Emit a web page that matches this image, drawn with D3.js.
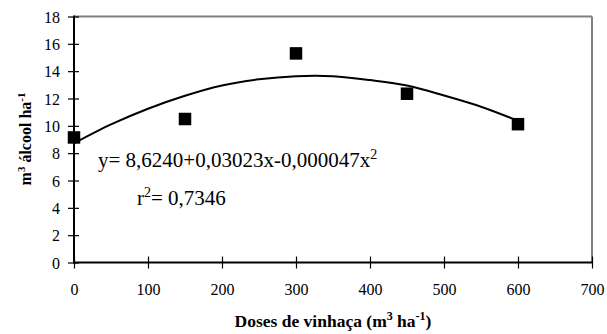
<!DOCTYPE html>
<html>
<head>
<meta charset="utf-8">
<script src="https://cdn.jsdelivr.net/npm/d3@7"></script>
<style>
html,body{margin:0;padding:0;background:#fff;}
svg{display:block;}
svg text{font-family:"Liberation Serif","Times New Roman",serif;}
</style>
</head>
<body>
<svg id="chart" width="607" height="334"></svg>
<script>
// Observed points
const doses = [0, 150, 300, 450, 600];
const alcool = [9.15, 10.5, 15.3, 12.35, 10.12];
// Fitted curve
const curveX = [0, 50, 100, 150, 200, 250, 300, 350, 400, 450, 500, 550, 600];
const curveY = [8.72, 10.1, 11.25, 12.2, 12.95, 13.4, 13.63, 13.63, 13.35, 12.95, 12.22, 11.4, 10.37];
const xTicks = [0, 100, 200, 300, 400, 500, 600, 700];
const yTicks = [0, 2, 4, 6, 8, 10, 12, 14, 16, 18];

const svg = d3.select("#chart");
const mLeft = 74, mRight = 592, mTop = 16.5, mBottom = 262.5;
const x = d3.scaleLinear().domain([0, 700]).range([mLeft, mRight]);
const y = d3.scaleLinear().domain([0, 18]).range([mBottom, mTop]);

// frame (top & right gray)
svg.append("line").attr("x1", mLeft).attr("x2", mRight).attr("y1", mTop).attr("y2", mTop)
  .attr("stroke", "#808080").attr("stroke-width", 2);
svg.append("line").attr("x1", mRight).attr("x2", mRight).attr("y1", mTop).attr("y2", mBottom)
  .attr("stroke", "#808080").attr("stroke-width", 2);

// axes
const xAxis = d3.axisBottom(x).tickValues(xTicks).tickSize(0).tickPadding(0).tickFormat(d3.format("d"));
const gx = svg.append("g").attr("transform", `translate(0,${mBottom})`).call(xAxis)
  .attr("font-family", "Liberation Serif").attr("font-size", 16);
gx.select(".domain").remove();
gx.selectAll(".tick text").attr("dy", null).attr("y", 32).attr("fill", "#000");
gx.selectAll(".tick").append("line").attr("y1", -6).attr("y2", 6).attr("stroke", "#000").attr("stroke-width", 1.2);
svg.append("line").attr("x1", mLeft).attr("x2", mRight).attr("y1", mBottom).attr("y2", mBottom)
  .attr("stroke", "#000").attr("stroke-width", 2);

const yAxis = d3.axisLeft(y).tickValues(yTicks).tickSize(0).tickPadding(0);
const gy = svg.append("g").attr("transform", `translate(${mLeft},0)`).call(yAxis)
  .attr("font-family", "Liberation Serif").attr("font-size", 16);
gy.select(".domain").remove();
gy.selectAll(".tick text").attr("x", -14).attr("dy", "0.35em").attr("fill", "#000");
gy.selectAll(".tick").append("line").attr("x1", -6).attr("x2", 5).attr("stroke", "#000").attr("stroke-width", 1.2);
svg.append("line").attr("x1", mLeft).attr("x2", mLeft).attr("y1", mTop - 1).attr("y2", mBottom + 1)
  .attr("stroke", "#000").attr("stroke-width", 2);

// fitted curve
const line = d3.line().x(d => x(d[0])).y(d => y(d[1])).curve(d3.curveCatmullRom);
svg.append("path").datum(curveX.map((v, i) => [v, curveY[i]]))
  .attr("d", line).attr("fill", "none").attr("stroke", "#000").attr("stroke-width", 2);

// points
const s = 12.5;
svg.selectAll("rect.pt").data(doses.map((v, i) => [v, alcool[i]])).enter().append("rect")
  .attr("class", "pt")
  .attr("x", d => x(d[0]) - s / 2).attr("y", d => y(d[1]) - s / 2)
  .attr("width", s).attr("height", s).attr("fill", "#000");

// equation
const eq = svg.append("text").attr("x", 98).attr("y", 166.5).attr("font-size", 21).attr("fill", "#000");
eq.append("tspan").text("y= 8,6240+0,03023x-0,000047x");
eq.append("tspan").attr("font-size", 14).attr("dy", -8).text("2");
const r2 = svg.append("text").attr("x", 137).attr("y", 204.5).attr("font-size", 21).attr("fill", "#000");
r2.append("tspan").text("r");
r2.append("tspan").attr("font-size", 14).attr("dy", -8).text("2");
r2.append("tspan").attr("dy", 8).text("= 0,7346");

// axis titles
const xt = svg.append("text").attr("x", 333).attr("y", 327).attr("text-anchor", "middle")
  .attr("font-size", 17.5).attr("font-weight", "bold").attr("fill", "#000");
xt.append("tspan").text("Doses de vinhaça (m");
xt.append("tspan").attr("font-size", 12).attr("dy", -7).text("3");
xt.append("tspan").attr("dy", 7).text(" ha");
xt.append("tspan").attr("font-size", 12).attr("dy", -7).text("-1");
xt.append("tspan").attr("dy", 7).text(")");

const yt = svg.append("text").attr("transform", `translate(31,139) rotate(-90)`)
  .attr("text-anchor", "middle").attr("font-size", 16).attr("font-weight", "bold").attr("fill", "#000");
yt.append("tspan").text("m");
yt.append("tspan").attr("font-size", 11).attr("dy", -6).text("3");
yt.append("tspan").attr("dy", 6).text(" álcool ha");
yt.append("tspan").attr("font-size", 11).attr("dy", -6).text("-1");
</script>
</body>
</html>
